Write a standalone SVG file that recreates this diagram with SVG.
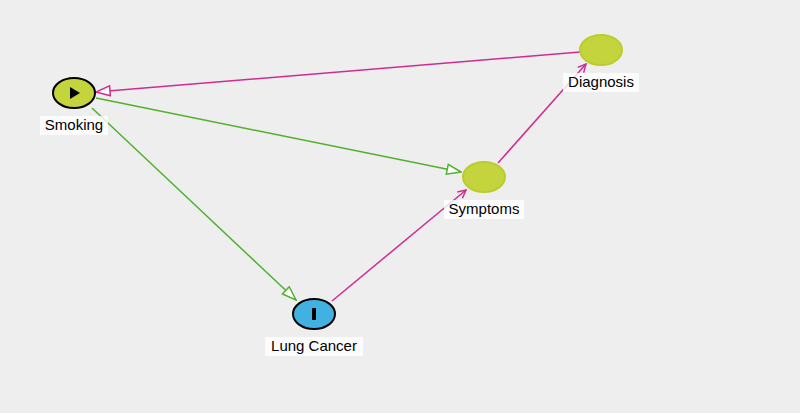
<svg xmlns="http://www.w3.org/2000/svg" width="800" height="413" viewBox="0 0 800 413">
<style>
text{font-family:"Liberation Sans",Arial,sans-serif;font-size:15px;text-anchor:middle;fill:#000}
.lbl{fill:#fff;opacity:0.8}
.g{stroke:#50b030;stroke-width:1.5;fill:none}
.p{stroke:#d02c90;stroke-width:1.5;fill:none}
</style>
<defs>
<marker id="ag" markerWidth="16" markerHeight="12" refX="15" refY="6" orient="auto" markerUnits="userSpaceOnUse"><path d="M1,1 L15,6 L1,11 Z" fill="#fff" stroke="#50b030" stroke-width="1.5"/></marker>
<marker id="ap" markerWidth="16" markerHeight="12" refX="15" refY="6" orient="auto" markerUnits="userSpaceOnUse"><path d="M1,1 L15,6 L1,11 Z" fill="#fff" stroke="#d02c90" stroke-width="1.5"/></marker>
<marker id="sp" markerWidth="10" markerHeight="10" refX="9" refY="5" orient="auto" markerUnits="userSpaceOnUse"><path d="M1,1 L9,5 L1,9" fill="none" stroke="#d02c90" stroke-width="1.5"/></marker>
</defs>
<rect width="800" height="413" fill="#eeeeee"/>
<g id="edges">
<line class="g" x1="92" y1="108" x2="296" y2="300" marker-end="url(#ag)"/>
<line class="g" x1="96" y1="98" x2="461" y2="172" marker-end="url(#ag)"/>
<line class="p" x1="332" y1="301" x2="466" y2="190" marker-end="url(#sp)"/>
<line class="p" x1="498" y1="163" x2="586" y2="64" marker-end="url(#sp)"/>
<line class="p" x1="580" y1="52" x2="96" y2="92" marker-end="url(#ap)"/>
</g>
<g id="smoking">
<ellipse cx="74" cy="93" rx="21" ry="15" fill="#c4d43c" stroke="#000" stroke-width="2"/>
<path d="M70,87 L80,93 L70,99 Z" fill="#000"/>
<rect class="lbl" x="40" y="116" width="68" height="19"/>
<text x="74" y="130">Smoking</text>
</g>
<g id="lungcancer">
<ellipse cx="314" cy="314" rx="21" ry="15" fill="#41b1e1" stroke="#000" stroke-width="2"/>
<rect x="312" y="308" width="4" height="12" fill="#000"/>
<rect class="lbl" x="265" y="337" width="98" height="19"/>
<text x="314" y="351">Lung Cancer</text>
</g>
<g id="symptoms">
<ellipse cx="484" cy="177" rx="21" ry="15" fill="#c4d43c" stroke="#bccc2c" stroke-width="2"/>
<rect class="lbl" x="444" y="200" width="80" height="19"/>
<text x="484" y="214">Symptoms</text>
</g>
<g id="diagnosis">
<ellipse cx="601" cy="50" rx="21" ry="15" fill="#c4d43c" stroke="#bccc2c" stroke-width="2"/>
<rect class="lbl" x="563" y="73" width="76" height="19"/>
<text x="601" y="87">Diagnosis</text>
</g>
</svg>
